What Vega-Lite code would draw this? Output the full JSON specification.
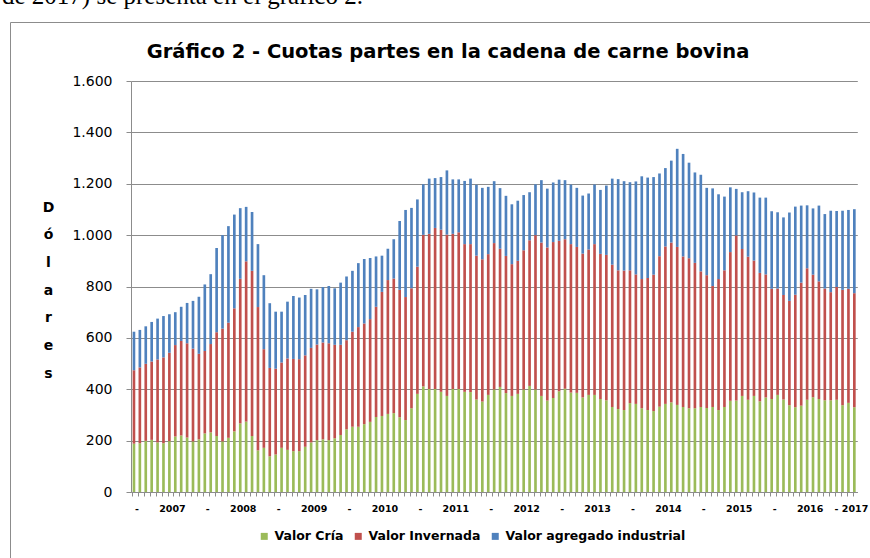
{
 "$schema": "https://vega.github.io/schema/vega-lite/v6.json",
 "width": 880,
 "height": 556,
 "autosize": {"type": "none"},
 "padding": {"left": 10, "top": 22, "right": -20, "bottom": -20},
 "background": "white",
 "title": {"text": "de 2017) se presenta en el gráfico 2.", "font": "Liberation Serif", "fontSize": 25, "fontWeight": "normal", "color": "black", "anchor": "start", "frame": "group", "dx": -8, "offset": 0, "dy": 7, "baseline": "alphabetic"},
 "data": {"values": [
{"i":0,"cria":188,"invernada":286,"valor_agregado":150},
{"i":1,"cria":190,"invernada":295,"valor_agregado":146},
{"i":2,"cria":199,"invernada":300,"valor_agregado":146},
{"i":3,"cria":203,"invernada":305,"valor_agregado":154},
{"i":4,"cria":193,"invernada":323,"valor_agregado":159},
{"i":5,"cria":190,"invernada":334,"valor_agregado":161},
{"i":6,"cria":198,"invernada":344,"valor_agregado":150},
{"i":7,"cria":216,"invernada":356,"valor_agregado":128},
{"i":8,"cria":220,"invernada":368,"valor_agregado":133},
{"i":9,"cria":212,"invernada":367,"valor_agregado":157},
{"i":10,"cria":197,"invernada":361,"valor_agregado":186},
{"i":11,"cria":205,"invernada":333,"valor_agregado":222},
{"i":12,"cria":228,"invernada":321,"valor_agregado":259},
{"i":13,"cria":232,"invernada":344,"valor_agregado":272},
{"i":14,"cria":218,"invernada":404,"valor_agregado":328},
{"i":15,"cria":197,"invernada":439,"valor_agregado":364},
{"i":16,"cria":211,"invernada":448,"valor_agregado":376},
{"i":17,"cria":236,"invernada":479,"valor_agregado":365},
{"i":18,"cria":267,"invernada":563,"valor_agregado":275},
{"i":19,"cria":274,"invernada":624,"valor_agregado":212},
{"i":20,"cria":218,"invernada":643,"valor_agregado":229},
{"i":21,"cria":162,"invernada":558,"valor_agregado":245},
{"i":22,"cria":172,"invernada":384,"valor_agregado":288},
{"i":23,"cria":139,"invernada":344,"valor_agregado":252},
{"i":24,"cria":146,"invernada":334,"valor_agregado":222},
{"i":25,"cria":172,"invernada":332,"valor_agregado":198},
{"i":26,"cria":164,"invernada":356,"valor_agregado":221},
{"i":27,"cria":159,"invernada":359,"valor_agregado":245},
{"i":28,"cria":159,"invernada":358,"valor_agregado":240},
{"i":29,"cria":176,"invernada":356,"valor_agregado":235},
{"i":30,"cria":193,"invernada":368,"valor_agregado":230},
{"i":31,"cria":202,"invernada":372,"valor_agregado":215},
{"i":32,"cria":205,"invernada":377,"valor_agregado":216},
{"i":33,"cria":202,"invernada":377,"valor_agregado":223},
{"i":34,"cria":209,"invernada":364,"valor_agregado":220},
{"i":35,"cria":222,"invernada":351,"valor_agregado":242},
{"i":36,"cria":244,"invernada":347,"valor_agregado":248},
{"i":37,"cria":254,"invernada":370,"valor_agregado":237},
{"i":38,"cria":254,"invernada":388,"valor_agregado":249},
{"i":39,"cria":264,"invernada":392,"valor_agregado":251},
{"i":40,"cria":273,"invernada":400,"valor_agregado":238},
{"i":41,"cria":292,"invernada":429,"valor_agregado":196},
{"i":42,"cria":296,"invernada":483,"valor_agregado":141},
{"i":43,"cria":304,"invernada":521,"valor_agregado":122},
{"i":44,"cria":307,"invernada":524,"valor_agregado":153},
{"i":45,"cria":291,"invernada":496,"valor_agregado":268},
{"i":46,"cria":280,"invernada":479,"valor_agregado":339},
{"i":47,"cria":326,"invernada":467,"valor_agregado":313},
{"i":48,"cria":382,"invernada":495,"valor_agregado":262},
{"i":49,"cria":411,"invernada":590,"valor_agregado":197},
{"i":50,"cria":401,"invernada":604,"valor_agregado":215},
{"i":51,"cria":401,"invernada":627,"valor_agregado":194},
{"i":52,"cria":390,"invernada":631,"valor_agregado":205},
{"i":53,"cria":374,"invernada":628,"valor_agregado":250},
{"i":54,"cria":401,"invernada":604,"valor_agregado":212},
{"i":55,"cria":401,"invernada":610,"valor_agregado":206},
{"i":56,"cria":390,"invernada":575,"valor_agregado":246},
{"i":57,"cria":389,"invernada":576,"valor_agregado":255},
{"i":58,"cria":360,"invernada":560,"valor_agregado":276},
{"i":59,"cria":352,"invernada":554,"valor_agregado":278},
{"i":60,"cria":378,"invernada":548,"valor_agregado":262},
{"i":61,"cria":399,"invernada":570,"valor_agregado":241},
{"i":62,"cria":409,"invernada":538,"valor_agregado":236},
{"i":63,"cria":385,"invernada":534,"valor_agregado":234},
{"i":64,"cria":374,"invernada":513,"valor_agregado":233},
{"i":65,"cria":382,"invernada":518,"valor_agregado":234},
{"i":66,"cria":399,"invernada":542,"valor_agregado":215},
{"i":67,"cria":413,"invernada":567,"valor_agregado":187},
{"i":68,"cria":399,"invernada":601,"valor_agregado":198},
{"i":69,"cria":374,"invernada":597,"valor_agregado":243},
{"i":70,"cria":356,"invernada":596,"valor_agregado":229},
{"i":71,"cria":366,"invernada":607,"valor_agregado":232},
{"i":72,"cria":392,"invernada":586,"valor_agregado":238},
{"i":73,"cria":402,"invernada":582,"valor_agregado":230},
{"i":74,"cria":387,"invernada":578,"valor_agregado":232},
{"i":75,"cria":386,"invernada":568,"valor_agregado":230},
{"i":76,"cria":368,"invernada":560,"valor_agregado":226},
{"i":77,"cria":378,"invernada":566,"valor_agregado":218},
{"i":78,"cria":378,"invernada":587,"valor_agregado":232},
{"i":79,"cria":362,"invernada":565,"valor_agregado":249},
{"i":80,"cria":357,"invernada":566,"valor_agregado":270},
{"i":81,"cria":331,"invernada":554,"valor_agregado":335},
{"i":82,"cria":323,"invernada":540,"valor_agregado":355},
{"i":83,"cria":319,"invernada":543,"valor_agregado":348},
{"i":84,"cria":346,"invernada":517,"valor_agregado":343},
{"i":85,"cria":343,"invernada":504,"valor_agregado":362},
{"i":86,"cria":326,"invernada":503,"valor_agregado":400},
{"i":87,"cria":319,"invernada":514,"valor_agregado":391},
{"i":88,"cria":315,"invernada":531,"valor_agregado":380},
{"i":89,"cria":332,"invernada":586,"valor_agregado":322},
{"i":90,"cria":343,"invernada":613,"valor_agregado":305},
{"i":91,"cria":349,"invernada":622,"valor_agregado":319},
{"i":92,"cria":339,"invernada":615,"valor_agregado":382},
{"i":93,"cria":331,"invernada":586,"valor_agregado":399},
{"i":94,"cria":326,"invernada":584,"valor_agregado":372},
{"i":95,"cria":326,"invernada":566,"valor_agregado":352},
{"i":96,"cria":331,"invernada":528,"valor_agregado":376},
{"i":97,"cria":327,"invernada":517,"valor_agregado":340},
{"i":98,"cria":331,"invernada":471,"valor_agregado":380},
{"i":99,"cria":319,"invernada":510,"valor_agregado":330},
{"i":100,"cria":331,"invernada":532,"valor_agregado":287},
{"i":101,"cria":355,"invernada":579,"valor_agregado":252},
{"i":102,"cria":356,"invernada":643,"valor_agregado":181},
{"i":103,"cria":374,"invernada":572,"valor_agregado":221},
{"i":104,"cria":359,"invernada":557,"valor_agregado":255},
{"i":105,"cria":374,"invernada":527,"valor_agregado":265},
{"i":106,"cria":353,"invernada":500,"valor_agregado":293},
{"i":107,"cria":368,"invernada":479,"valor_agregado":299},
{"i":108,"cria":362,"invernada":429,"valor_agregado":302},
{"i":109,"cria":378,"invernada":414,"valor_agregado":297},
{"i":110,"cria":360,"invernada":407,"valor_agregado":302},
{"i":111,"cria":338,"invernada":406,"valor_agregado":344},
{"i":112,"cria":330,"invernada":438,"valor_agregado":343},
{"i":113,"cria":336,"invernada":479,"valor_agregado":300},
{"i":114,"cria":359,"invernada":512,"valor_agregado":245},
{"i":115,"cria":369,"invernada":477,"valor_agregado":258},
{"i":116,"cria":362,"invernada":458,"valor_agregado":295},
{"i":117,"cria":357,"invernada":435,"valor_agregado":290},
{"i":118,"cria":357,"invernada":421,"valor_agregado":317},
{"i":119,"cria":359,"invernada":439,"valor_agregado":296},
{"i":120,"cria":338,"invernada":449,"valor_agregado":308},
{"i":121,"cria":347,"invernada":444,"valor_agregado":307},
{"i":122,"cria":330,"invernada":444,"valor_agregado":327}
 ]},
 "transform": [{"fold": ["cria", "invernada", "valor_agregado"], "as": ["serie", "valor"]}],
 "layer": [
  {
   "mark": {"type": "bar"},
   "encoding": {
    "x": {"field": "i", "type": "ordinal", "scale": {"range": [121, 847.3], "paddingInner": 0.55, "paddingOuter": 0.275},
      "axis": {"orient": "bottom", "offset": -86, "title": null, "bandPosition": 0, "labelOffset": 3, "labelAngle": 0,
        "labelExpr": "datum.value == 121 ? '- 2017' : (datum.value % 12 == 0 && datum.value < 120 ? '-' : (datum.value % 12 == 6 ? '' + (2007 + floor(datum.value / 12)) : ''))",
        "labelOverlap": false, "labelFont": "DejaVu Sans", "labelFontWeight": "bold", "labelFontSize": 9.5, "labelColor": "black", "labelPadding": 7,
        "tickColor": "#8c8c8c", "tickSize": 4, "domainColor": "#8c8c8c", "grid": false}},
    "y": {"field": "valor", "type": "quantitative", "stack": "zero", "scale": {"domain": [0, 1600], "nice": false, "range": [470, 59]},
      "axis": {"offset": -121, "title": ["D", "ó", "l", "a", "r", "e", "s"], "titleAngle": 0, "titleX": -83, "titleY": 185, "titleAlign": "center", "titleBaseline": "middle", "titleLineHeight": 27.7,
        "titleFont": "DejaVu Sans", "titleFontWeight": "bold", "titleFontSize": 14, "titleColor": "black",
        "values": [0, 200, 400, 600, 800, 1000, 1200, 1400, 1600],
        "labelExpr": "replace(format(datum.value, ','), ',', '.')",
        "labelFont": "DejaVu Sans", "labelFontSize": 14, "labelColor": "black", "labelPadding": 14,
        "tickSize": 5, "tickColor": "#8c8c8c", "domainColor": "#8c8c8c", "grid": true, "gridColor": "#8c8c8c", "gridWidth": 1}},
    "color": {"field": "serie", "type": "nominal",
      "scale": {"domain": ["cria", "invernada", "valor_agregado"], "range": ["#9BBB59", "#C0504D", "#4F81BD"]},
      "legend": {"orient": "none", "legendX": 248, "legendY": 508, "direction": "horizontal", "title": null,
        "symbolType": "square", "symbolSize": 49, "symbolStrokeWidth": 0, "labelLimit": 400,
        "labelExpr": "datum.value == 'cria' ? 'Valor Cría' : (datum.value == 'invernada' ? 'Valor Invernada' : 'Valor agregado industrial')",
        "labelFont": "DejaVu Sans", "labelFontWeight": "bold", "labelFontSize": 12.5, "labelColor": "black", "labelOffset": 4, "columnPadding": 8}},
    "order": {"field": "serie", "sort": "ascending"}
   }
  },
  {
   "mark": {"type": "tick", "opacity": 0},
   "encoding": {
    "x": {"field": "i", "type": "ordinal",
      "axis": {"orient": "top", "title": "Gráfico 2 - Cuotas partes en la cadena de carne bovina", "titleX": 437.5, "titleY": 35, "titleAlign": "center", "titleBaseline": "alphabetic",
        "titleFont": "DejaVu Sans", "titleFontWeight": "bold", "titleFontSize": 19.5, "titleColor": "black",
        "domain": false, "ticks": false, "labels": false, "grid": false}}
   }
  }
 ],
 "resolve": {"axis": {"x": "independent"}},
 "config": {"view": {"stroke": "#8c8c8c", "strokeWidth": 1}}
}
